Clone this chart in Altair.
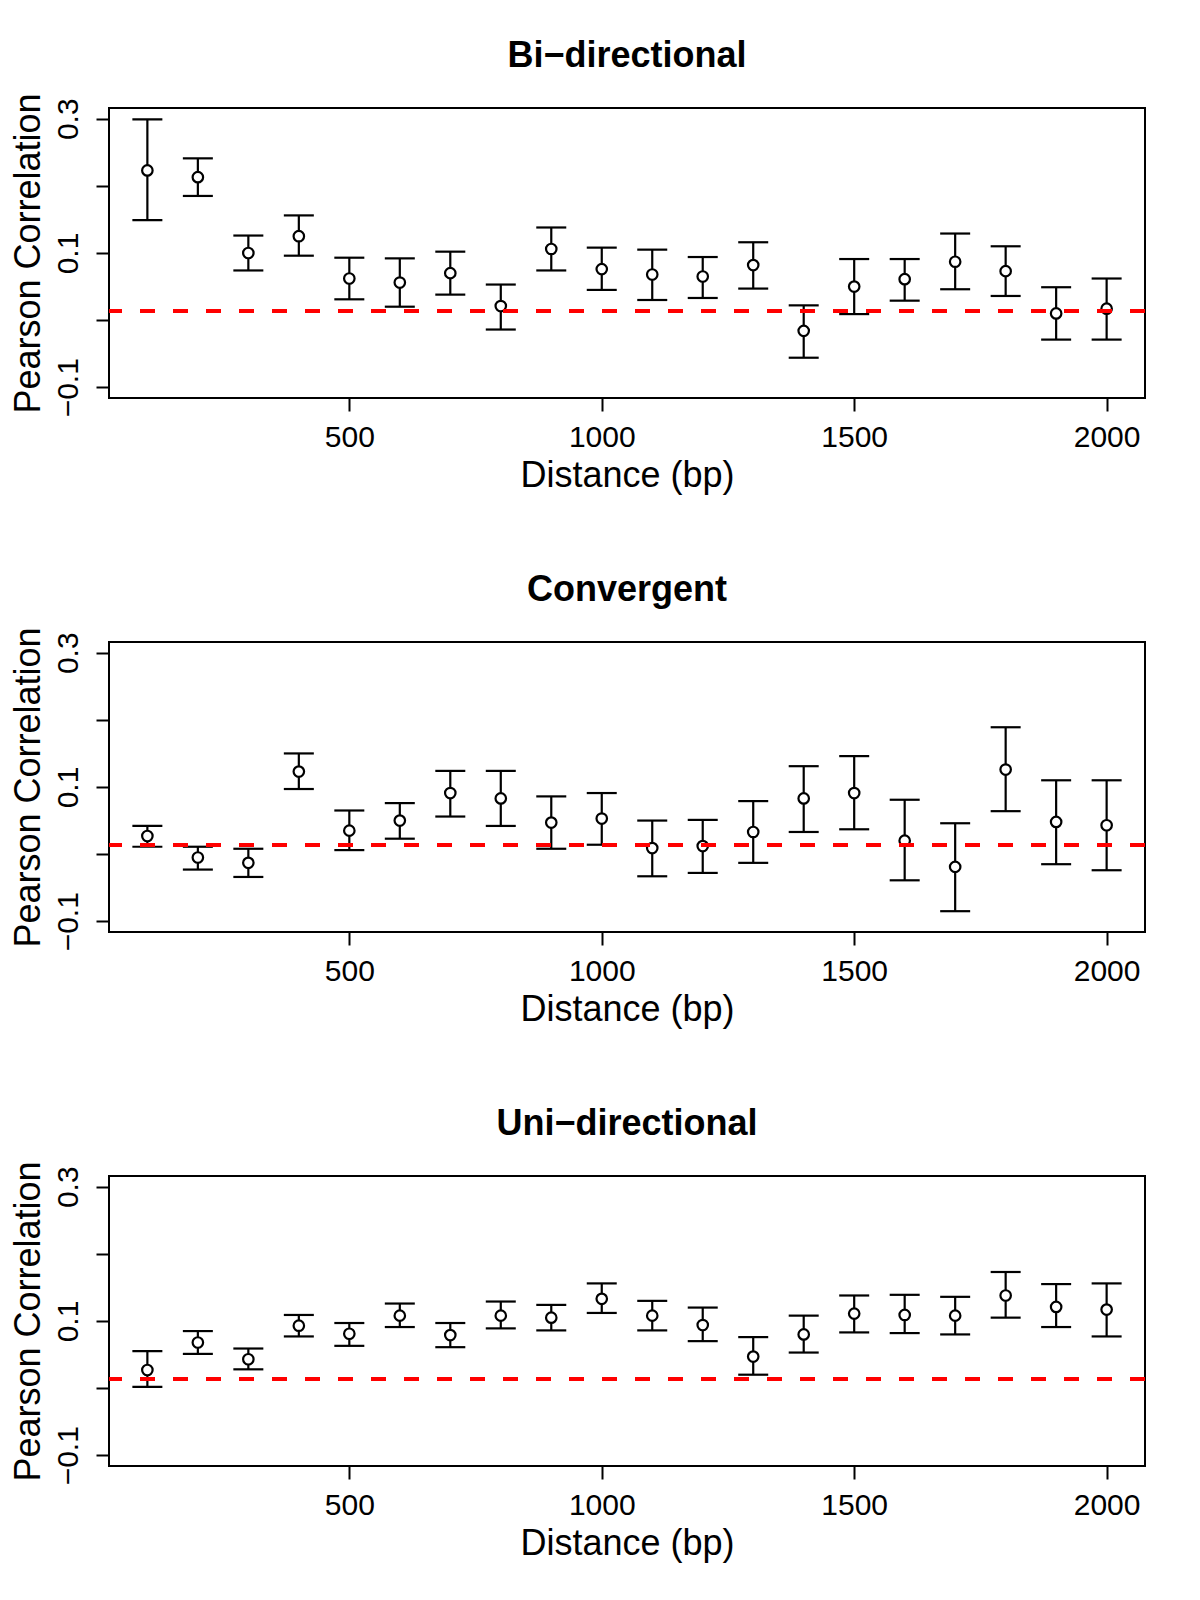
import altair as alt
import pandas as pd

distance = [100, 200, 300, 400, 500, 600, 700, 800, 900, 1000,
            1100, 1200, 1300, 1400, 1500, 1600, 1700, 1800, 1900, 2000]

bi_r = [0.223, 0.213, 0.100, 0.125, 0.062, 0.056, 0.070, 0.021, 0.106, 0.076,
        0.068, 0.065, 0.082, -0.016, 0.050, 0.061, 0.087, 0.073, 0.010, 0.017]
bi_hi = [0.299, 0.241, 0.126, 0.156, 0.093, 0.092, 0.102, 0.053, 0.138, 0.108,
         0.105, 0.094, 0.116, 0.022, 0.091, 0.091, 0.129, 0.110, 0.049, 0.062]
bi_lo = [0.149, 0.185, 0.074, 0.096, 0.031, 0.020, 0.038, -0.014, 0.074, 0.045,
         0.030, 0.033, 0.047, -0.056, 0.009, 0.029, 0.046, 0.036, -0.029, -0.029]

co_r = [0.027, -0.005, -0.013, 0.123, 0.035, 0.050, 0.091, 0.083, 0.047, 0.053,
        0.009, 0.012, 0.033, 0.083, 0.091, 0.020, -0.019, 0.126, 0.048, 0.043]
co_hi = [0.042, 0.011, 0.008, 0.150, 0.065, 0.076, 0.124, 0.124, 0.086, 0.091,
         0.050, 0.051, 0.079, 0.131, 0.146, 0.081, 0.046, 0.189, 0.110, 0.110]
co_lo = [0.011, -0.023, -0.034, 0.097, 0.006, 0.023, 0.056, 0.042, 0.008, 0.014,
         -0.033, -0.028, -0.013, 0.033, 0.037, -0.039, -0.085, 0.064, -0.015, -0.024]

un_r = [0.027, 0.068, 0.043, 0.093, 0.081, 0.108, 0.079, 0.108, 0.105, 0.133,
        0.108, 0.094, 0.047, 0.080, 0.111, 0.109, 0.108, 0.138, 0.121, 0.117]
un_hi = [0.055, 0.085, 0.059, 0.109, 0.097, 0.126, 0.097, 0.129, 0.124, 0.156,
         0.130, 0.120, 0.076, 0.108, 0.138, 0.139, 0.136, 0.173, 0.155, 0.156]
un_lo = [0.002, 0.051, 0.028, 0.077, 0.063, 0.091, 0.061, 0.089, 0.086, 0.112,
         0.086, 0.070, 0.020, 0.053, 0.083, 0.082, 0.080, 0.105, 0.091, 0.077]

baseline_r = 0.0135

x_ticks = [500, 1000, 1500, 2000]
y_ticks = [-0.1, 0.0, 0.1, 0.2, 0.3]

FONT = "Liberation Sans"
W, H = 1036, 290

xs = alt.Scale(domain=[24, 2076], nice=False, zero=False)
ys = alt.Scale(domain=[-0.116, 0.316], nice=False, zero=False)

x_axis = alt.Axis(values=x_ticks, title="Distance (bp)", grid=False, domain=False,
                  format="d",
                  tickColor="black", tickWidth=2, tickSize=13,
                  labelFont=FONT, labelFontSize=30, labelColor="black",
                  labelPadding=11, labelBaseline="top",
                  titleFont=FONT, titleFontSize=36, titleFontWeight="normal",
                  titleColor="black", titleBaseline="alphabetic",
                  titleX=W / 2, titleY=88, titleAnchor="middle")

y_axis = alt.Axis(values=y_ticks, title="Pearson Correlation", grid=False, domain=False,
                  format=".1f",
                  labelExpr="(abs(datum.value) < 0.001 || abs(datum.value - 0.2) < 0.001) ? '' : datum.label",
                  tickColor="black", tickWidth=2, tickSize=13,
                  labelFont=FONT, labelFontSize=30, labelColor="black",
                  labelAngle=270, labelAlign="center", labelBaseline="alphabetic",
                  labelPadding=19,
                  titleFont=FONT, titleFontSize=36, titleFontWeight="normal",
                  titleColor="black", titleAngle=270, titleAlign="center",
                  titleBaseline="alphabetic", titleX=-70, titleY=H / 2)


def panel(title, r, lo, hi):
    df = pd.DataFrame({"distance": distance, "r": r, "lo": lo, "hi": hi})
    base = alt.Chart(df)
    X = alt.X("distance:Q", scale=xs, axis=x_axis)
    bars = base.mark_rule(color="black", strokeWidth=2.2).encode(
        x=X, y=alt.Y("lo:Q", scale=ys, axis=y_axis), y2="hi:Q")
    cap_lo = base.mark_tick(color="black", orient="horizontal", size=30,
                            thickness=2.2, opacity=1).encode(
        x=X, y=alt.Y("lo:Q", scale=ys, axis=y_axis))
    cap_hi = base.mark_tick(color="black", orient="horizontal", size=30,
                            thickness=2.2, opacity=1).encode(
        x=X, y=alt.Y("hi:Q", scale=ys, axis=y_axis))
    pts = base.mark_point(shape="circle", filled=False, fill="white", fillOpacity=1,
                          stroke="black", strokeWidth=2.2, size=110, opacity=1).encode(
        x=X, y=alt.Y("r:Q", scale=ys, axis=y_axis))
    ref = alt.Chart(pd.DataFrame({"baseline": [baseline_r]})).mark_rule(
        color="#FF0000", strokeWidth=4, strokeDash=[15, 18]).encode(
        y=alt.Y("baseline:Q", scale=ys, axis=y_axis))
    return alt.layer(bars, cap_lo, cap_hi, pts, ref).properties(
        width=W, height=H,
        title=alt.TitleParams(title, font=FONT, fontSize=36, fontWeight="bold",
                              color="black", anchor="middle", frame="group",
                              baseline="alphabetic", offset=-10))


chart = alt.vconcat(
    panel("Bi\u2212directional", bi_r, bi_lo, bi_hi),
    panel("Convergent", co_r, co_lo, co_hi),
    panel("Uni\u2212directional", un_r, un_lo, un_hi),
    spacing=76,
).properties(
    padding={"left": 0, "top": 28, "right": 5, "bottom": 5},
    background="white",
).configure_view(
    stroke="black", strokeWidth=2
)

chart.save("out.html", embed_options={"renderer": "svg", "actions": False})
